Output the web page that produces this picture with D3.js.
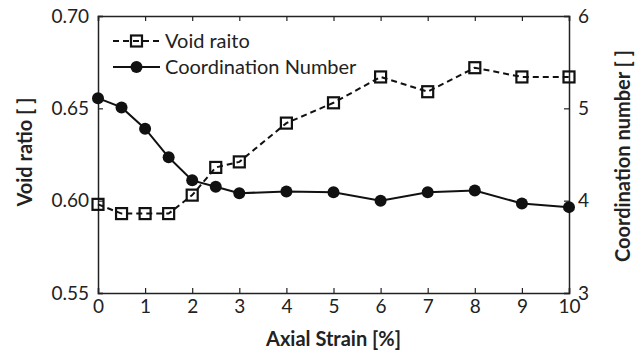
<!DOCTYPE html>
<html>
<head>
<meta charset="utf-8">
<script src="https://cdn.jsdelivr.net/npm/d3@7"></script>
<style>
  body { margin: 0; background: #fff; }
  svg { display: block; font-family: Lato, "Open Sans", sans-serif; }
</style>
</head>
<body>
<div id="chart"></div>
<script>
const strain = [0, 0.5, 1, 1.5, 2, 2.5, 3, 4, 5, 6, 7, 8, 9, 10];
const voidRatio = [0.598, 0.593, 0.593, 0.593, 0.603, 0.618, 0.621, 0.642, 0.653, 0.667, 0.659, 0.672, 0.667, 0.667];
const coordNumber = [5.11, 5.01, 4.78, 4.47, 4.22, 4.15, 4.08, 4.10, 4.09, 4.00, 4.09, 4.11, 3.97, 3.93];
const xTicks = [0, 1, 2, 3, 4, 5, 6, 7, 8, 9, 10];
const leftTicks = [0.55, 0.60, 0.65, 0.70];
const rightTicks = [3, 4, 5, 6];

const width = 640, height = 355;
const m = { left: 98, right: 71, top: 16, bottom: 62 };
const font = "Lato, 'Open Sans', sans-serif";

const svg = d3.select("#chart").append("svg")
  .attr("width", width).attr("height", height);

const x = d3.scaleLinear().domain([0, 10]).range([m.left, width - m.right]);
const yL = d3.scaleLinear().domain([0.55, 0.70]).range([height - m.bottom, m.top]);
const yR = d3.scaleLinear().domain([3, 6]).range([height - m.bottom, m.top]);

const tickLen = 5;

// bottom axis (ticks point inward)
const gx = svg.append("g").attr("transform", `translate(0,${height - m.bottom})`)
  .call(d3.axisBottom(x).tickValues(xTicks).tickSize(-tickLen).tickPadding(11).tickFormat(d3.format("d")));
// top axis
const gt = svg.append("g").attr("transform", `translate(0,${m.top})`)
  .call(d3.axisTop(x).tickValues(xTicks).tickSize(-tickLen).tickFormat(""));
// left axis
const gl = svg.append("g").attr("transform", `translate(${m.left},0)`)
  .call(d3.axisLeft(yL).tickValues(leftTicks).tickSize(-tickLen).tickPadding(10).tickFormat(d3.format(".2f")));
// right axis
const gr = svg.append("g").attr("transform", `translate(${width - m.right},0)`)
  .call(d3.axisRight(yR).tickValues(rightTicks).tickSize(-tickLen).tickPadding(10).tickFormat(d3.format("d")));

[gx, gt, gl, gr].forEach(g => {
  g.attr("font-family", font).attr("font-size", 19);
  g.select(".domain").attr("stroke", "#222").attr("stroke-width", 1.5);
  g.selectAll(".tick line").attr("stroke", "#222").attr("stroke-width", 1.2);
  g.selectAll(".tick text").attr("fill", "#222");
});
gx.selectAll(".tick text").attr("dy", "0.45em");
gl.selectAll(".tick text").attr("dx", "1");
gr.selectAll(".tick text").attr("dx", "-1");

// axis titles
const title = (sel) => sel.attr("text-anchor", "middle").attr("font-size", 20)
  .attr("font-weight", "bold").attr("fill", "#222").attr("font-family", font);
svg.append("text").attr("x", (m.left + width - m.right) / 2).attr("y", 346)
  .call(title).text("Axial Strain [%]");
svg.append("text").attr("transform", `translate(32,152) rotate(-90)`)
  .call(title).text("Void ratio [ ]");
svg.append("text").attr("transform", `translate(630,156) rotate(-90)`)
  .call(title).text("Coordination number [ ]");

// void ratio series
const lineV = d3.line().x((d, i) => x(strain[i])).y(d => yL(d));
svg.append("path").datum(voidRatio).attr("d", lineV)
  .attr("fill", "none").attr("stroke", "#111").attr("stroke-width", 2).attr("stroke-dasharray", "6,4");
svg.selectAll("rect.void").data(voidRatio).join("rect").attr("class", "void")
  .attr("x", (d, i) => x(strain[i]) - 5.5).attr("y", d => yL(d) - 5.5)
  .attr("width", 11).attr("height", 11)
  .attr("fill", "none").attr("stroke", "#111").attr("stroke-width", 2.2);

// coordination number series
const lineC = d3.line().x((d, i) => x(strain[i])).y(d => yR(d));
svg.append("path").datum(coordNumber).attr("d", lineC)
  .attr("fill", "none").attr("stroke", "#111").attr("stroke-width", 2);
svg.selectAll("circle.coord").data(coordNumber).join("circle").attr("class", "coord")
  .attr("cx", (d, i) => x(strain[i])).attr("cy", d => yR(d)).attr("r", 6)
  .attr("fill", "#111");

// legend
const leg = svg.append("g").attr("font-family", font).attr("font-size", 20).attr("fill", "#222");
leg.append("line").attr("x1", 113).attr("x2", 160).attr("y1", 41).attr("y2", 41)
  .attr("stroke", "#111").attr("stroke-width", 2).attr("stroke-dasharray", "6,4");
leg.append("rect").attr("x", 131).attr("y", 35.5).attr("width", 11).attr("height", 11)
  .attr("fill", "none").attr("stroke", "#111").attr("stroke-width", 2.2);
leg.append("text").attr("x", 165).attr("y", 48).text("Void raito");
leg.append("line").attr("x1", 113).attr("x2", 160).attr("y1", 67).attr("y2", 67)
  .attr("stroke", "#111").attr("stroke-width", 2);
leg.append("circle").attr("cx", 136.5).attr("cy", 67).attr("r", 6).attr("fill", "#111");
leg.append("text").attr("x", 165).attr("y", 74).text("Coordination Number");
</script>
</body>
</html>
